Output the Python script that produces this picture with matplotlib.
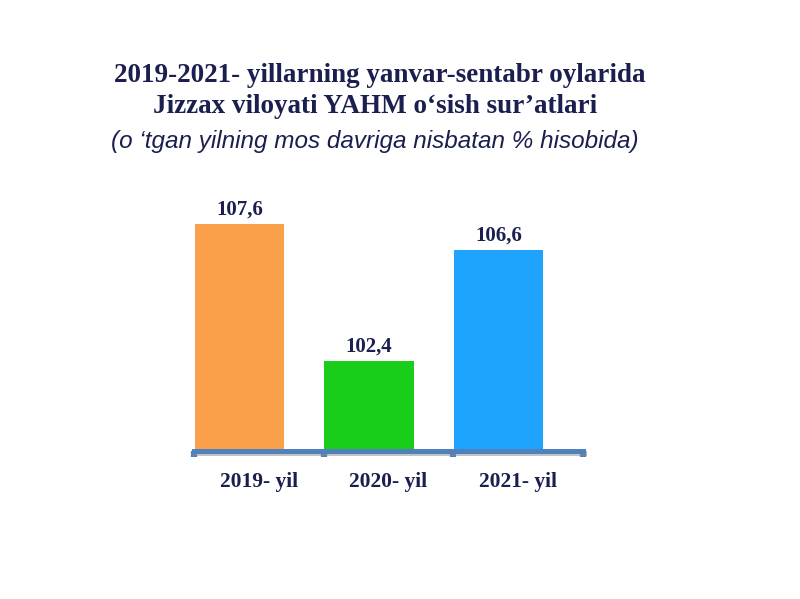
import matplotlib
matplotlib.use("Agg")
import matplotlib.pyplot as plt
import matplotlib.patheffects as pe

categories = ["2019- yil", "2020- yil", "2021- yil"]
values = [107.6, 102.4, 106.6]
value_labels = ["107,6", "102,4", "106,6"]
colors = ["#FBA04A", "#1ACD1A", "#1EA3FF"]

title1 = "2019-2021- yillarning yanvar-sentabr oylarida"
title2 = "Jizzax viloyati YAHM o‘sish sur’atlari"
subtitle = "(o ‘tgan yilning mos davriga nisbatan % hisobida)"

navy = "#1A1F4F"

base_px = 449
px_per_unit = 26.35
fig = plt.figure(figsize=(8, 5.99), dpi=100)
ax = fig.add_axes([194 / 800, (599 - base_px) / 599, 389 / 800, 235 / 599])

ymin = 99.06
ymax = ymin + 235 / px_per_unit
x = list(range(len(categories)))
bar_w = 0.69
offset = -0.5 + 0.005 + bar_w / 2
bx = [i + offset for i in x]
ax.bar(bx, [v - ymin for v in values], bottom=ymin, width=bar_w, color=colors, zorder=2)
for xi, v, lab in zip(bx, values, value_labels):
    ax.annotate(lab, (xi, v), xytext=(0, 3.5), textcoords="offset points",
                ha="center", va="bottom", fontsize=15, fontweight="bold",
                family="Liberation Serif", color=navy)

ax.set_xlim(-0.5, 2.5)
ax.set_ylim(ymin, ymax)
for s in ["top", "right", "left"]:
    ax.spines[s].set_visible(False)
ax.spines["bottom"].set_color("#4F81BD")
ax.spines["bottom"].set_linewidth(3.6)
ax.spines["bottom"].set_position(("outward", 1.5))
ax.spines["bottom"].set_path_effects([pe.SimpleLineShadow(offset=(1, -1.5), shadow_color="#888888", alpha=0.5), pe.Normal()])
ax.set_yticks([])
ax.set_xticks([-0.5, 0.5, 1.5, 2.5], minor=False)
ax.set_xticklabels([])
ax.tick_params(axis="x", which="major", length=4, width=4.5, color="#4F81BD", direction="out")
ax.set_xticks(x, minor=True)
ax.set_xticklabels(categories, minor=True, fontsize=15.5, fontweight="bold",
                   family="Liberation Serif", color=navy)
ax.tick_params(axis="x", which="minor", length=0, pad=15)

fig.text(380 / 800, 1 - 75 / 599, title1, ha="center", va="center", fontsize=19.5,
         fontweight="bold", family="Liberation Serif", color=navy)
fig.text(375 / 800, 1 - 107 / 599, title2, ha="center", va="center", fontsize=19.5,
         fontweight="bold", family="Liberation Serif", color=navy)
fig.text(375 / 800, 1 - 142 / 599, subtitle, ha="center", va="center", fontsize=17.5,
         style="italic", family="Liberation Sans", color=navy)

fig.savefig("out.png", dpi=100)
